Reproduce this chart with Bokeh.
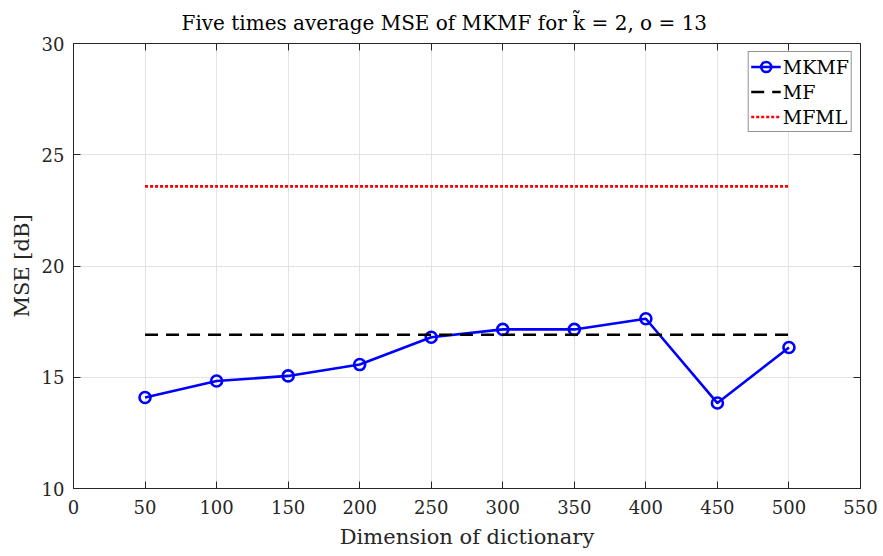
from bokeh.plotting import figure
from bokeh.models import LinearAxis, Range1d, FixedTicker, Legend, LegendItem
from bokeh.embed import file_html
from bokeh.resources import INLINE

# ---- data ----
dims = [50, 100, 150, 200, 250, 300, 350, 400, 450, 500]
mkmf = [14.09, 14.83, 15.06, 15.57, 16.80, 17.15, 17.15, 17.63, 13.84, 16.34]
mf_x = [50, 500]
mf_y = [16.91, 16.91]
mfml_x = [50, 500]
mfml_y = [23.58, 23.58]
x_ticks = [0, 50, 100, 150, 200, 250, 300, 350, 400, 450, 500, 550]
y_ticks = [10, 15, 20, 25, 30]

FONT = "'DejaVu Serif', serif"
AX = "#262626"

p = figure(width=883, height=556, output_backend="svg", toolbar_location=None,
           x_range=Range1d(0, 550), y_range=Range1d(10, 30),
           min_border_left=73, min_border_right=23, min_border_top=43, min_border_bottom=68)

p.title.text = "Five times average MSE of MKMF for k\u0303 = 2, o = 13"
p.title.text_font = FONT
p.title.text_font_size = "20px"
p.title.text_font_style = "normal"
p.title.align = "left"
p.title.text_color = "#000000"
p.title.offset = 108
p.title.standoff = 17

for ax in (p.xaxis[0], p.yaxis[0]):
    ax.major_label_text_font = FONT
    ax.major_label_text_font_size = "18px"
    ax.major_label_text_color = AX
    ax.axis_label_text_font = FONT
    ax.axis_label_text_font_size = "21px"
    ax.axis_label_text_font_style = "normal"
    ax.axis_label_text_color = AX
    ax.axis_line_color = AX
    ax.major_tick_line_color = AX
    ax.major_tick_in = 7
    ax.major_tick_out = 0
    ax.minor_tick_line_color = None

p.xaxis[0].ticker = FixedTicker(ticks=x_ticks)
p.yaxis[0].ticker = FixedTicker(ticks=y_ticks)
p.xaxis[0].axis_label = "Dimension of dictionary"
p.yaxis[0].axis_label = "MSE [dB]"
p.xaxis[0].major_label_standoff = 11
p.xaxis[0].axis_label_standoff = 8
p.yaxis[0].major_label_standoff = 9
p.yaxis[0].axis_label_standoff = 5

# top and right axes (ticks only)
top = LinearAxis(ticker=FixedTicker(ticks=x_ticks),
                 major_label_overrides={t: "" for t in x_ticks},
                 major_label_standoff=0, axis_line_color=AX, major_tick_line_color=AX,
                 major_tick_in=7, major_tick_out=0, minor_tick_line_color=None)
right = LinearAxis(ticker=FixedTicker(ticks=y_ticks),
                   major_label_overrides={t: "" for t in y_ticks},
                   major_label_standoff=0, axis_line_color=AX, major_tick_line_color=AX,
                   major_tick_in=7, major_tick_out=0, minor_tick_line_color=None)
p.add_layout(top, "above")
p.add_layout(right, "right")

p.xgrid.ticker = FixedTicker(ticks=x_ticks)
p.ygrid.ticker = FixedTicker(ticks=y_ticks)
p.grid.grid_line_color = "#e3e3e3"
p.grid.grid_line_width = 1
p.outline_line_color = AX
p.background_fill_color = "white"
p.border_fill_color = "white"

l1 = p.line(dims, mkmf, line_color="#0000ff", line_width=2.6)
s1 = p.scatter(dims, mkmf, marker="circle", size=11, line_color="#0000ff",
               line_width=2.6, fill_color=None)
l2 = p.line(mf_x, mf_y, line_color="#000000", line_width=2.6, line_dash="13 8")
l3 = p.line(mfml_x, mfml_y, line_color="#ff0000", line_width=2.6, line_dash="3 2")

legend = Legend(items=[
    LegendItem(label="MKMF", renderers=[l1, s1]),
    LegendItem(label="MF", renderers=[l2]),
    LegendItem(label="MFML", renderers=[l3]),
], location="top_right")
legend.label_text_font = FONT
legend.label_text_font_size = "19px"
legend.label_text_color = "#000000"
legend.border_line_color = AX
legend.border_line_width = 1
legend.background_fill_color = "white"
legend.background_fill_alpha = 1
legend.glyph_width = 30
legend.glyph_height = 25
legend.label_standoff = 2
legend.spacing = 0
legend.padding = 2
legend.margin = 8
legend.label_height = 25
p.add_layout(legend)

open("out.html", "w").write(file_html(p, INLINE))
